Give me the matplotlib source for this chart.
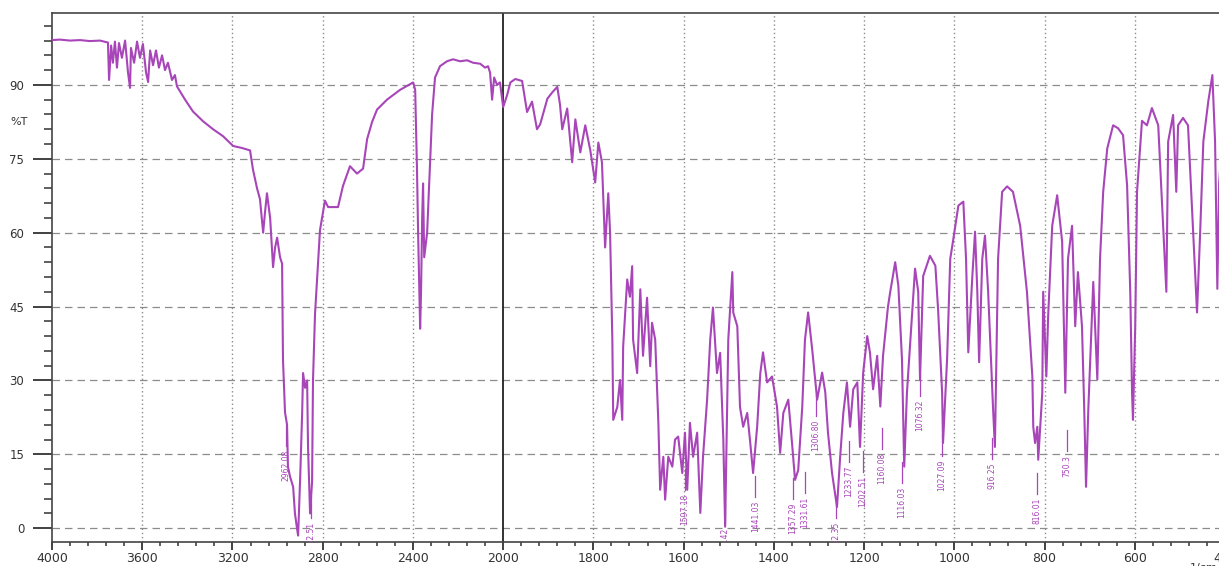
import numpy as np
import matplotlib
matplotlib.use("Agg")
import matplotlib.pyplot as plt
from matplotlib.ticker import FixedLocator

# FTIR spectrum: wavenumber (1/cm) and transmittance (%T)
wavenumber = [
    4000, 3965, 3920, 3876, 3832, 3787, 3752, 3747, 3738, 3730, 3721, 3712, 3703,
    3690, 3676, 3663, 3654, 3650, 3636, 3623, 3610, 3597, 3583, 3574, 3565, 3552,
    3539, 3526, 3512, 3499, 3486, 3468, 3455, 3446, 3410, 3375, 3330, 3286, 3242,
    3197, 3158, 3122, 3109, 3091, 3078, 3064, 3056, 3047, 3033, 3020, 3011, 3002,
    2989, 2980, 2976, 2967, 2958, 2954, 2945, 2931, 2923, 2914, 2909, 2900, 2891,
    2887, 2878, 2869, 2865, 2856, 2847, 2843, 2834, 2825, 2812, 2790, 2776, 2754,
    2732, 2710, 2679, 2648, 2621, 2603, 2581, 2559, 2515, 2457, 2426, 2399, 2390,
    2382, 2377, 2368, 2364, 2359, 2355, 2350, 2337, 2324, 2315, 2302, 2280, 2249,
    2222, 2191, 2160, 2133, 2102, 2080, 2067, 2058, 2049, 2040, 2027, 2014, 2000,
    1991, 1984, 1973, 1958, 1947, 1936, 1925, 1918, 1902, 1891, 1880, 1874, 1869,
    1858, 1847, 1840, 1829, 1818, 1807, 1796, 1789, 1781, 1774, 1767, 1763, 1758,
    1756, 1747, 1741, 1736, 1734, 1725, 1719, 1714, 1712, 1703, 1696, 1690, 1681,
    1674, 1670, 1663, 1656, 1652, 1645, 1641, 1634, 1625, 1619, 1612, 1603, 1597,
    1592, 1586, 1579, 1570, 1563, 1557, 1548, 1541, 1535, 1526, 1519, 1512, 1508,
    1501, 1492, 1490, 1481, 1475, 1468, 1459, 1453, 1446, 1437, 1430, 1424, 1415,
    1404, 1393, 1386, 1379, 1368, 1359, 1353, 1346, 1337, 1331, 1324, 1315, 1304,
    1293, 1286, 1280, 1271, 1260, 1253, 1246, 1238, 1231, 1224, 1215, 1209, 1202,
    1193, 1187, 1180, 1171, 1164, 1158, 1147, 1142, 1131, 1124, 1116, 1111, 1105,
    1093, 1087, 1080, 1076, 1069, 1054, 1042, 1036, 1027, 1025, 1016, 1009, 1003,
    991, 980, 974, 969, 960, 954, 949, 945, 938, 932, 925, 914, 910, 903, 894,
    883, 870, 854, 839, 827, 825, 821, 816, 814, 805, 803, 796, 792, 783, 772,
    761, 754, 748, 739, 732, 726, 717, 712, 708, 703, 692, 683, 677, 670, 661,
    648, 637, 626, 617, 610, 606, 604, 599, 595, 584, 573, 562, 548, 537, 530,
    526, 515, 508, 504, 493, 482, 473, 466, 462, 455, 448, 437, 428, 422, 417,
    413, 406, 400,
]
transmittance = [
    99.1, 99.2, 99.0, 99.1, 98.9, 99.0, 98.6, 91.0, 98.0, 94.5, 98.8, 93.5, 98.5,
    95.5, 99.0, 92.5, 89.4, 97.5, 94.5, 98.8, 95.5, 98.3, 92.5, 90.6, 97.0, 94.0,
    97.0, 93.5, 96.0, 93.0, 94.5, 91.0, 92.0, 89.7, 87.0, 84.6, 82.6, 81.0, 79.6,
    77.6, 77.2, 76.7, 72.8, 69.0, 66.8, 60.0, 64.0, 68.0, 63.0, 53.0, 57.0, 59.0,
    55.0, 53.7, 34.2, 23.5, 21.0, 12.5, 10.5, 8.4, 3.0, 0.0, -1.5, 10.0, 23.5,
    31.5, 28.5, 30.0, 16.5, 3.0, 9.5, 30.0, 43.5, 50.5, 60.5, 66.5, 65.2, 65.2,
    65.2, 69.5, 73.5, 72.0, 73.0, 79.0, 82.5, 85.0, 87.0, 89.0, 89.8, 90.5, 89.0,
    73.0, 60.0, 40.5, 48.0, 63.0, 70.0, 55.0, 60.0, 74.0, 84.0, 91.5, 93.8, 94.8,
    95.2, 94.8, 95.0, 94.5, 94.3, 93.5, 93.8, 92.5, 87.0, 91.5, 90.0, 90.5, 85.5,
    88.0, 90.5, 91.2, 90.8, 84.5, 86.6, 81.0, 82.0, 87.2, 88.5, 89.6, 86.0, 81.0,
    85.2, 74.3, 83.0, 76.3, 81.8, 76.8, 70.2, 78.3, 74.3, 57.0, 68.0, 60.0, 38.3,
    22.0, 24.6, 30.1, 22.0, 36.9, 50.5, 47.0, 53.2, 38.3, 31.5, 48.5, 35.0, 46.8,
    32.9, 41.7, 38.3, 21.5, 7.8, 14.5, 5.8, 14.5, 12.5, 18.0, 18.6, 11.2, 19.4,
    7.8, 21.4, 14.5, 19.4, 3.1, 14.5, 26.0, 38.3, 44.8, 31.5, 35.6, 18.0, 0.3,
    38.3, 52.0, 43.8, 41.0, 24.6, 20.6, 23.4, 18.0, 11.2, 20.6, 31.5, 35.7, 29.6,
    30.8, 24.7, 15.3, 23.4, 26.1, 16.5, 9.8, 11.8, 24.7, 38.3, 43.8, 36.3, 26.1,
    31.6, 27.6, 19.4, 11.2, 4.3, 14.5, 23.4, 29.6, 20.6, 28.2, 29.6, 16.5, 31.6,
    39.0, 35.7, 28.2, 35.0, 24.7, 35.0, 45.0, 48.0, 54.0, 49.2, 34.3, 12.5, 27.5,
    44.5, 52.7, 48.0, 30.2, 51.2, 55.3, 53.3, 44.5, 27.5, 17.3, 34.3, 54.7, 58.2,
    65.5, 66.3, 54.7, 35.7, 51.2, 60.2, 48.0, 33.7, 54.7, 59.4, 48.0, 24.1, 16.5,
    54.7, 68.3, 69.4, 68.3, 61.4, 48.0, 30.8, 20.6, 17.3, 20.6, 13.9, 27.5, 48.0,
    30.8, 43.0, 61.4, 67.6, 58.2, 27.5, 54.7, 61.4, 41.0, 52.0, 41.0, 24.1, 8.4,
    24.1, 50.0, 30.2, 54.7, 68.3, 77.1, 81.8, 81.2, 79.8, 69.6, 48.0, 27.5, 22.0,
    41.0, 68.3, 82.7, 81.8, 85.3, 81.8, 61.4, 48.0, 78.5, 83.9, 68.3, 81.8, 83.3,
    81.8, 64.9, 52.0, 43.8, 60.2, 78.5, 86.7, 92.0, 78.5, 48.6, 70.0, 80.0, 82.0,
]

# peak annotations: position, text, and %T where the label text starts
peak_wn = [2962.08, 2852.51, 1597.18, 1508.42, 1441.03, 1357.29, 1331.61,
           1306.80, 1262.35, 1233.77, 1202.51, 1160.08, 1116.03, 1076.32,
           1027.09, 916.25, 816.01, 750.3]
peak_text = ["2962.08", "2852.51", "1597.18", "1508.42", "1441.03", "1357.29",
             "1331.61", "1306.80", "1262.35", "1233.77", "1202.51", "1160.08",
             "1116.03", "1076.32", "1027.09", "916.25", "816.01", "750.3"]
peak_top = [15.9, 1.3, 7.0, 0.0, 5.5, 5.2, 6.4, 22.0, 1.3, 12.7, 10.6, 15.3,
            8.4, 26.1, 13.9, 13.3, 6.2, 14.9]

y_ticks = [0, 15, 30, 45, 60, 75, 90]
x_ticks = [4000, 3600, 3200, 2800, 2400, 2000, 1800, 1600, 1400, 1200, 1000,
           800, 600, 400]

line_col = "#a845b8"
grid_col = "#8c8c8c"


# scale doubles in width below 2000 1/cm
def fwd(w):
    w = np.asarray(w, dtype=float)
    return np.where(w >= 2000, w, 2000 + 2 * (w - 2000))


def inv(u):
    u = np.asarray(u, dtype=float)
    return np.where(u >= 2000, u, 2000 + (u - 2000) / 2)


fig = plt.figure(figsize=(12.19, 5.66), dpi=100)
ax = fig.add_axes([52 / 1219, 24 / 566, 1173 / 1219, 529 / 566])
ax.set_xscale("function", functions=(fwd, inv))
ax.set_xlim(4000, 400)
ax.set_ylim(-2.8, 104.6)

for y in y_ticks:
    ax.axhline(y, color=grid_col, lw=0.9, ls=(0, (6, 4)), zorder=1)
for x in x_ticks:
    if x not in (4000, 2000, 400):
        ax.axvline(x, color=grid_col, lw=1.0, ls=(0, (1, 2)), zorder=1)
ax.axvline(2000, color="#222222", lw=1.3, zorder=2)

ax.plot(wavenumber, transmittance, color=line_col, lw=1.5, zorder=3)

for w, txt, top in zip(peak_wn, peak_text, peak_top):
    ax.plot([w, w], [top + 0.8, top + 5.0], color=line_col, lw=0.9, zorder=4)
    ax.text(w, top, txt, rotation=90, ha="center", va="top", fontsize=5.5,
            color=line_col, zorder=4, clip_on=True)

ax.xaxis.set_major_locator(FixedLocator(x_ticks))
minor_x = list(np.arange(4000, 2000, -80)) + list(np.arange(2000, 399, -40))
ax.xaxis.set_minor_locator(FixedLocator(minor_x))
ax.set_xticklabels([str(x) for x in x_ticks])
ax.yaxis.set_major_locator(FixedLocator(y_ticks))
ax.yaxis.set_minor_locator(FixedLocator(np.arange(0, 105, 3)))

ax.tick_params(axis="y", which="major", length=14, width=1.3, pad=6,
               labelsize=8.5, colors="#333333")
ax.tick_params(axis="y", which="minor", length=6, width=1.1, colors="#333333")
ax.tick_params(axis="x", which="major", length=5.5, width=1.3, pad=2,
               labelsize=9, colors="#333333")
ax.tick_params(axis="x", which="minor", length=3, width=1.1, colors="#333333")

for side in ("left", "bottom", "top"):
    ax.spines[side].set_color("#444444")
    ax.spines[side].set_linewidth(1.2)
ax.spines["right"].set_visible(False)

fig.text(10 / 1219, 1 - 122 / 566, "%T", fontsize=8, color="#333333",
         va="center", ha="left")
fig.text(1190 / 1219, 1 - 563 / 566, "1/cm", fontsize=8, color="#333333",
         va="top", ha="left")

fig.savefig("out.png", dpi=100)
